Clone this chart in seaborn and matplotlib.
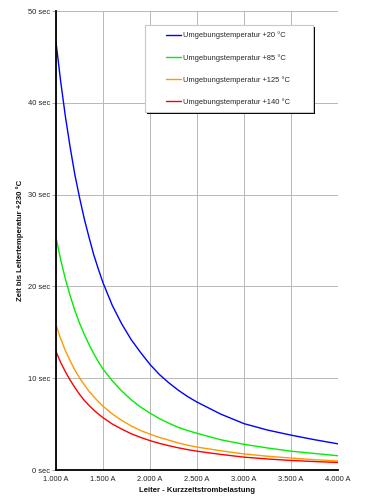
import matplotlib
matplotlib.use("Agg")
import matplotlib.pyplot as plt
import seaborn as sns
import pandas as pd
from matplotlib.patches import Rectangle

# ---- data ----
current_a = [1000, 1050, 1100, 1150, 1200, 1250, 1300, 1350, 1400, 1450, 1500,
             1600, 1700, 1800, 1900, 2000, 2100, 2200, 2300, 2400, 2500,
             2750, 3000, 3250, 3500, 3750, 4000]
t_20 = [46.6, 42.3, 38.5, 35.2, 32.2, 29.7, 27.4, 25.4, 23.5, 21.9, 20.4,
        17.9, 15.9, 14.2, 12.8, 11.5, 10.4, 9.5, 8.7, 8.0, 7.4,
        6.1, 5.05, 4.35, 3.8, 3.3, 2.85]
t_85 = [25.3, 22.9, 20.8, 19.0, 17.4, 16.0, 14.8, 13.7, 12.7, 11.8, 11.0,
        9.7, 8.6, 7.65, 6.85, 6.2, 5.6, 5.1, 4.65, 4.3, 4.0,
        3.3, 2.8, 2.4, 2.05, 1.8, 1.55]
t_125 = [15.8, 14.3, 13.0, 11.9, 10.9, 10.05, 9.3, 8.6, 8.0, 7.45, 6.95,
         6.1, 5.4, 4.8, 4.3, 3.9, 3.55, 3.25, 2.95, 2.7, 2.5,
         2.1, 1.75, 1.5, 1.3, 1.12, 0.98]
t_140 = [12.9, 11.7, 10.7, 9.8, 9.0, 8.25, 7.6, 7.05, 6.55, 6.1, 5.7,
         5.0, 4.45, 3.95, 3.55, 3.2, 2.9, 2.65, 2.42, 2.22, 2.05,
         1.7, 1.4, 1.2, 1.04, 0.92, 0.82]
series_names = ["Umgebungstemperatur +20 °C", "Umgebungstemperatur +85 °C",
                "Umgebungstemperatur +125 °C", "Umgebungstemperatur +140 °C"]
series_colors = ["#0000ff", "#00ee00", "#ff9900", "#ff0000"]
x_ticks = [1000, 1500, 2000, 2500, 3000, 3500, 4000]
x_tick_labels = ["1.000 A", "1.500 A", "2.000 A", "2.500 A", "3.000 A", "3.500 A", "4.000 A"]
y_ticks = [0, 10, 20, 30, 40, 50]
y_tick_labels = ["0 sec", "10 sec", "20 sec", "30 sec", "40 sec", "50 sec"]
x_label = "Leiter - Kurzzeitstrombelastung"
y_label = "Zeit bis Leitertemperatur +230 °C"

frames = []
for name, vals in zip(series_names, [t_20, t_85, t_125, t_140]):
    frames.append(pd.DataFrame({"I": current_a, "t": vals, "Serie": name}))
df = pd.concat(frames, ignore_index=True)

sns.set_theme(style="white")
plt.rcParams["font.family"] = ["Liberation Sans", "DejaVu Sans"]

fig = plt.figure(figsize=(3.66, 4.98), dpi=100)
ax = fig.add_axes([56 / 366, 28 / 498, 282 / 366, 459 / 498])

sns.lineplot(data=df, x="I", y="t", hue="Serie", hue_order=series_names,
             palette=dict(zip(series_names, series_colors)), linewidth=1.0,
             ax=ax, legend=True)

ax.set_xlim(1000, 4000)
ax.set_ylim(0, 50)
ax.set_xticks(x_ticks)
ax.set_xticklabels(x_tick_labels, fontsize=5.4, color="#222222")
ax.set_yticks(y_ticks)
ax.set_yticklabels(y_tick_labels, fontsize=5.4, color="#222222")
ax.tick_params(axis="x", length=0, pad=4)
ax.tick_params(axis="y", length=3, width=0.6, color="#999999", pad=1.5, left=True)

ax.grid(True, color="#b8b8b8", linewidth=0.7)
ax.set_axisbelow(True)
for s in ["top", "right"]:
    ax.spines[s].set_visible(False)
for s in ["left", "bottom"]:
    ax.spines[s].set_color("black")
    ax.spines[s].set_linewidth(1.3)
    ax.spines[s].set_zorder(5)

ax.set_xlabel(x_label, fontsize=5.6, fontweight="bold", color="#111111")
ax.set_ylabel(y_label, fontsize=5.6, fontweight="bold", color="#111111")
ax.xaxis.set_label_coords(0.5, -0.037)
ax.yaxis.set_label_coords(-0.115, 0.5)

# legend box with shadow
x0, x1 = (145 - 56) / 282, (313 - 56) / 282
y0, y1 = (470 - 112) / 459, (470 - 25) / 459
dx, dy = 2.2 / 282, 2.2 / 459
ax.add_patch(Rectangle((x0 + dx, y0 - dy), x1 - x0, y1 - y0, transform=ax.transAxes,
                       facecolor="black", edgecolor="none", zorder=6))
ax.add_patch(Rectangle((x0, y0), x1 - x0, y1 - y0, transform=ax.transAxes,
                       facecolor="white", edgecolor="#c8c8c8", linewidth=0.8, zorder=7))

handles, labels = ax.get_legend_handles_labels()
leg = ax.legend(handles, labels, loc="upper left", bbox_to_anchor=((166 - 56) / 282, (470 - 31.8) / 459),
                frameon=False, fontsize=5.4, handlelength=2.0, handletextpad=0.3,
                labelspacing=1.92, borderpad=0, borderaxespad=0)
leg.set_zorder(8)
for line in leg.get_lines():
    line.set_linewidth(1.0)

fig.savefig("out.png", dpi=100)
